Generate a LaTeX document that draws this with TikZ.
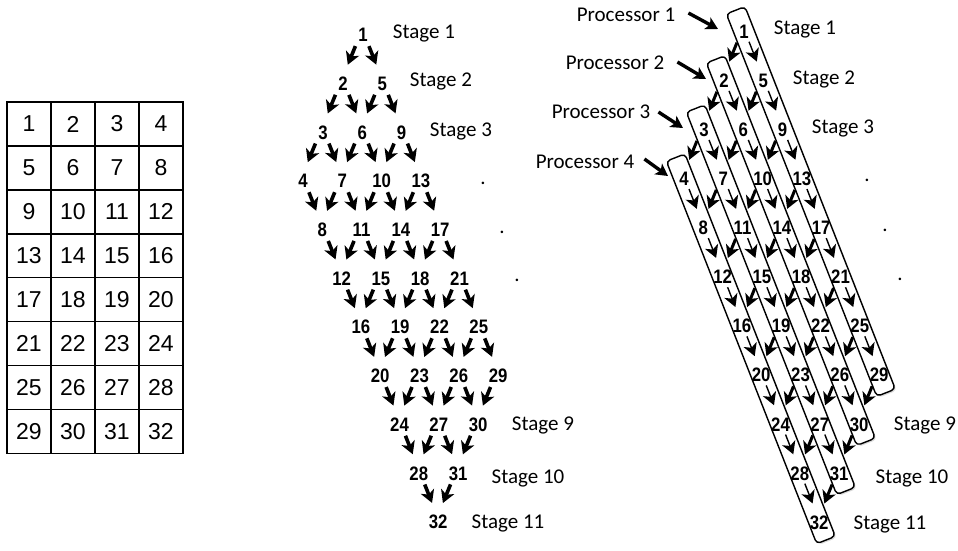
\documentclass[tikz,border=0pt]{standalone}
\usepackage{fontspec}
\setmainfont{Liberation Sans}
\newfontfamily\stagefont{Carlito}
\newfontfamily\numfont[FakeStretch=0.86]{Liberation Sans}
\usetikzlibrary{arrows.meta,calc,shadows}
\pgfdeclarelayer{bg}
\pgfsetlayers{bg,main}
\begin{document}
\begin{tikzpicture}[x=1pt,y=-1pt,
  cell/.style={draw, line width=1.5pt, minimum width=44pt, minimum height=43.9pt, inner sep=0pt, font=\fontsize{23}{26}\selectfont},
  num/.style={inner sep=0pt, text height=13.5pt, text depth=0pt, font=\numfont\bfseries\fontsize{19.5}{21}\selectfont},
  lbl/.style={inner sep=0pt, text height=13.5pt, text depth=0pt, font=\stagefont\fontsize{21}{24}\selectfont},
  dotlbl/.style={inner sep=0pt, font=\stagefont\fontsize{21}{24}\selectfont},
  tipA/.style={-{Stealth[length=12.5pt,width=14pt,inset=3.5pt]}},
  marr/.style={tipA, line width=3.6pt, shorten <=12pt, shorten >=20.5pt},
  parrL/.style={tipA, line width=3pt, shorten <=12pt, shorten >=20.5pt},
  parrR/.style={tipA, line width=1.4pt, shorten <=11pt, shorten >=20.5pt},
  strip/.style={draw, fill=white, line width=1.4pt, rounded corners=4pt, rotate=-68.54, minimum width=411pt, minimum height=20pt, inner sep=0pt,
    drop shadow={opacity=0.3, shadow xshift=1.5pt, shadow yshift=-1.5pt}},
  procarr/.style={line width=3.4pt, -{Stealth[length=12pt,width=13pt,inset=3pt]}}
]
\useasboundingbox (0,0) rectangle (958,550);

% table
\foreach \r in {0,...,7}{
  \foreach \c in {0,...,3}{
    \pgfmathtruncatemacro{\n}{4*\r+\c+1}
    \node[cell] (t-\n) at ({29+44*\c},{124+43.9*\r}) {\n};
  }
}

% number nodes
\foreach \r in {0,...,7}{
  \foreach \c in {0,...,3}{
    \pgfmathtruncatemacro{\n}{4*\r+\c+1}
    \node[num] (m-\n) at ({363+19.3*\r-20*\c},{35+48.7*(\r+\c)}) {\n};
    \node[num] (p-\n) at ({744+19.3*\r-20*\c},{31.5+49.1*(\r+\c)}) {\n};
  }
}

% processor strips
\begin{pgfonlayer}{bg}
\foreach \c/\last in {1/29,2/30,3/31,4/32}{
  \node[strip] (s\c) at ($(p-\c)!0.5!(p-\last)!2pt!(p-\c)$) {};
}
\end{pgfonlayer}

% arrows
\foreach \r in {0,...,7}{
  \foreach \c in {0,...,3}{
    \pgfmathtruncatemacro{\n}{4*\r+\c+1}
    \pgfmathtruncatemacro{\nl}{\n+1}
    \pgfmathtruncatemacro{\nr}{\n+4}
    \ifnum\c<3
      \draw[marr] ([xshift=-3pt]m-\n.center) -- ([xshift=-3pt]m-\nl.center);
      \draw[parrL] ([xshift=-2.5pt]p-\n.center) -- ([xshift=-2.5pt]p-\nl.center);
    \fi
    \ifnum\r<7
      \draw[marr] ([xshift=1.5pt]m-\n.center) -- ([xshift=1.5pt]m-\nr.center);
      \draw[parrR] ([xshift=1pt]p-\n.center) -- ([xshift=1pt]p-\nr.center);
    \fi
  }
}

% stage labels middle
\node[lbl] (ms1) at (424,32) {Stage 1};
\node[lbl] (ms2) at (441,80) {Stage 2};
\node[lbl] (ms3) at (461,130) {Stage 3};
\node[lbl] (ms9) at (543,424) {Stage 9};
\node[lbl] (ms10) at (528,477) {Stage 10};
\node[lbl] (ms11) at (508,522) {Stage 11};
\node[dotlbl] (md1) at (483,183) {.};
\node[dotlbl] (md2) at (502,232) {.};
\node[dotlbl] (md3) at (517,280) {.};

% stage labels right
\node[lbl] (ps1) at (805,28) {Stage 1};
\node[lbl] (ps2) at (824,78) {Stage 2};
\node[lbl] (ps3) at (843,127) {Stage 3};
\node[lbl] (ps9) at (925,424) {Stage 9};
\node[lbl] (ps10) at (912,477) {Stage 10};
\node[lbl] (ps11) at (890,523) {Stage 11};
\node[dotlbl] (pd1) at (867,180) {.};
\node[dotlbl] (pd2) at (885,230) {.};
\node[dotlbl] (pd3) at (900,279) {.};

% processors
\node[lbl] (pr1) at (626,15) {Processor 1};
\node[lbl] (pr2) at (615,63) {Processor 2};
\node[lbl] (pr3) at (601,112) {Processor 3};
\node[lbl] (pr4) at (585,162) {Processor 4};
\coordinate (e1) at (718,29);
\coordinate (e2) at (706,79);
\coordinate (e3) at (683,128);
\coordinate (e4) at (668,176);
\draw[procarr] ([xshift=13pt,yshift=2pt]pr1.east) -- (e1);
\draw[procarr] ([xshift=13pt,yshift=1pt]pr2.east) -- (e2);
\draw[procarr] ([xshift=8pt,yshift=0pt]pr3.east) -- (e3);
\draw[procarr] ([xshift=10pt,yshift=3pt]pr4.east) -- (e4);
\end{tikzpicture}
\end{document}
